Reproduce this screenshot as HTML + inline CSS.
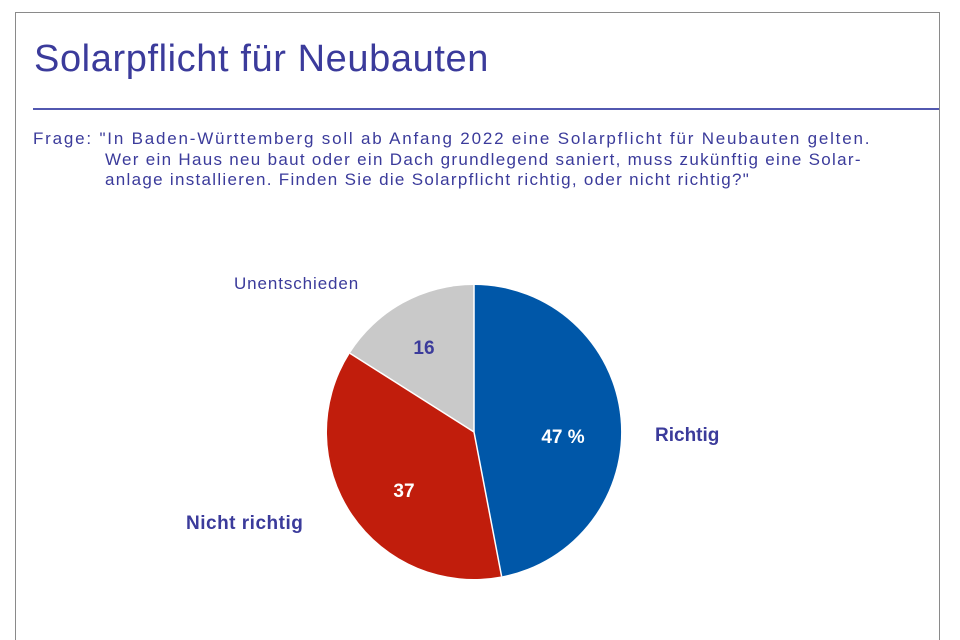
<!DOCTYPE html>
<html style="width:960px;height:640px;overflow:hidden"><head><meta charset="utf-8"><style>
body{margin:0;width:960px;height:640px;background:#fff;overflow:hidden;position:relative;font-family:"Liberation Sans",sans-serif;color:#3b3b9b}
.frame{position:absolute;left:15px;top:12px;width:925px;height:628px;border:1.5px solid #8a8a8a;border-bottom:none;box-sizing:border-box}
.t{position:absolute;left:34px;top:38px;font-size:38px;letter-spacing:0.6px}
.rule{position:absolute;left:33px;top:108px;width:906px;height:2px;background:#5258b0}
.q{position:absolute;left:33px;top:129px;font-size:17px;line-height:20.5px;letter-spacing:1.8px;color:#3b3b9b}
.q div{white-space:nowrap}
.lab{position:absolute;font-size:17px}
</style></head><body>
<div class="frame"></div>
<div class="t">Solarpflicht für Neubauten</div>
<div class="rule"></div>
<div class="q"><div>Frage: "In Baden-Württemberg soll ab Anfang 2022 eine Solarpflicht für Neubauten gelten.</div>
<div style="padding-left:72px;letter-spacing:1.3px">Wer ein Haus neu baut oder ein Dach grundlegend saniert, muss zukünftig eine Solar-</div>
<div style="padding-left:72px;letter-spacing:1.3px">anlage installieren. Finden Sie die Solarpflicht richtig, oder nicht richtig?"</div></div>
<svg width="960" height="640" style="position:absolute;left:0;top:0">
<path d="M474,432 L474,285 A147,147 0 0 1 501.6,576.4 Z" fill="#0057a8"/>
<path d="M474,432 L501.6,576.4 A147,147 0 0 1 349.9,353.2 Z" fill="#c11d0c"/>
<path d="M474,432 L349.9,353.2 A147,147 0 0 1 474,285 Z" fill="#c9c9c9"/>
<path d="M474,432 L474,285 M474,432 L501.6,576.4 M474,432 L349.9,353.2" stroke="#fff" stroke-width="1.5"/>
<text x="563" y="443" fill="#fff" font-family="Liberation Sans" font-weight="bold" font-size="19" text-anchor="middle">47 %</text>
<text x="404" y="497" fill="#fff" font-family="Liberation Sans" font-weight="bold" font-size="19" text-anchor="middle">37</text>
<text x="424" y="354" fill="#3b3b9b" font-family="Liberation Sans" font-weight="bold" font-size="19" text-anchor="middle">16</text>
</svg>
<div class="lab" style="left:234px;top:274px;font-size:17px;letter-spacing:0.9px">Unentschieden</div>
<div class="lab" style="left:655px;top:425px;font-weight:bold;font-size:19px">Richtig</div>
<div class="lab" style="left:186px;top:513px;font-weight:bold;font-size:19px;letter-spacing:0.5px">Nicht richtig</div>
</body></html>
